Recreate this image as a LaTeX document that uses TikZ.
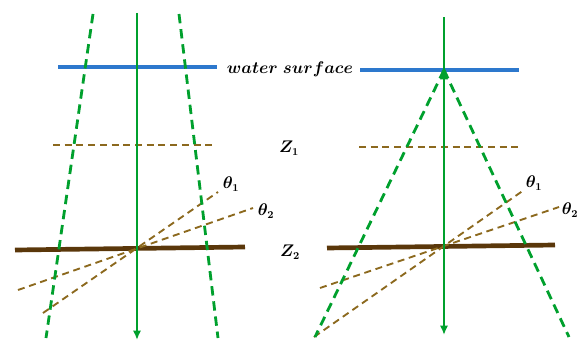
\documentclass[tikz,border=0pt]{standalone}
\usetikzlibrary{arrows.meta}
\definecolor{raygreen}{RGB}{0,160,45}
\definecolor{surfblue}{RGB}{45,120,205}
\definecolor{layerbrown}{RGB}{140,105,30}
\definecolor{darkbrown}{RGB}{90,55,10}
\tikzset{
  tip/.tip={Latex[length=8pt,width=7pt]},
  ray/.style={raygreen, line width=2pt, -tip},
  raydash/.style={raygreen, line width=2.4pt, dash pattern=on 8pt off 5pt},
  surface/.style={surfblue, line width=3pt},
  layer/.style={layerbrown, line width=1.6pt, dash pattern=on 6pt off 4pt},
  bottom/.style={darkbrown, line width=4pt},
  lbl/.style={font=\fontsize{13.5}{16}\selectfont\boldmath}
}
\begin{document}
\begin{tikzpicture}[x=0.03cm, y=-0.03cm]
    \useasboundingbox (0,0) rectangle (584,342);

    % Left panel
    \coordinate (Lc) at (137,248);
    \draw[surface] (58,67) coordinate (Ls1) -- (217,67) coordinate (Ls2);
    \draw[layer] (53,145) coordinate (Lz1) -- (212,145) coordinate (Lz2);
    \draw[bottom] (15,250) coordinate (Lb1) -- (245,247) coordinate (Lb2);
    \draw[layer] (43,313) coordinate (La1) -- (218,192) coordinate (La2);
    \draw[layer] (18,290) coordinate (Lt1) -- (253,208) coordinate (Lt2);
    \draw[raydash] (93,14) coordinate (Ld1) -- (46,338) coordinate (Ld2);
    \draw[raydash] (179,14) coordinate (Ld3) -- (218,338) coordinate (Ld4);
    \draw[ray] (137,13) coordinate (Ltop) -- (137,340) coordinate (Lbot);
    \node[lbl] (Lth1) at (231,184) {$\theta_1$};
    \node[lbl] (Lth2) at (266,211) {$\theta_2$};

    % Labels in the middle
    \node[lbl] (ws) at (290,69) {$water\ surface$};
    \node[lbl] (z1) at (289,148) {$Z_1$};
    \node[lbl] (z2) at (290,252) {$Z_2$};

    % Right panel
    \coordinate (Rs) at (444,70);
    \draw[surface] (360,70) coordinate (Rs1) -- (519,70) coordinate (Rs2);
    \draw[layer] (359,147) coordinate (Rz1) -- (519,147) coordinate (Rz2);
    \draw[bottom] (327,248) coordinate (Rb1) -- (555,245) coordinate (Rb2);
    \draw[layer] (314,337) coordinate (Ra1) -- (524,190) coordinate (Ra2);
    \draw[layer] (320,288) coordinate (Rt1) -- (559,207) coordinate (Rt2);
    \draw[raydash] (Rs) -- (315,337) coordinate (Rd1);
    \draw[raydash] (Rs) -- (569,337) coordinate (Rd2);
    \draw[ray, tip-tip] (444,335) coordinate (Rbot) -- (Rs);
    \draw[raygreen, line width=2pt] (Rs) -- (444,17) coordinate (Rtop);
    \node[lbl] (Rth1) at (534,183) {$\theta_1$};
    \node[lbl] (Rth2) at (570,210) {$\theta_2$};
\end{tikzpicture}
\end{document}
